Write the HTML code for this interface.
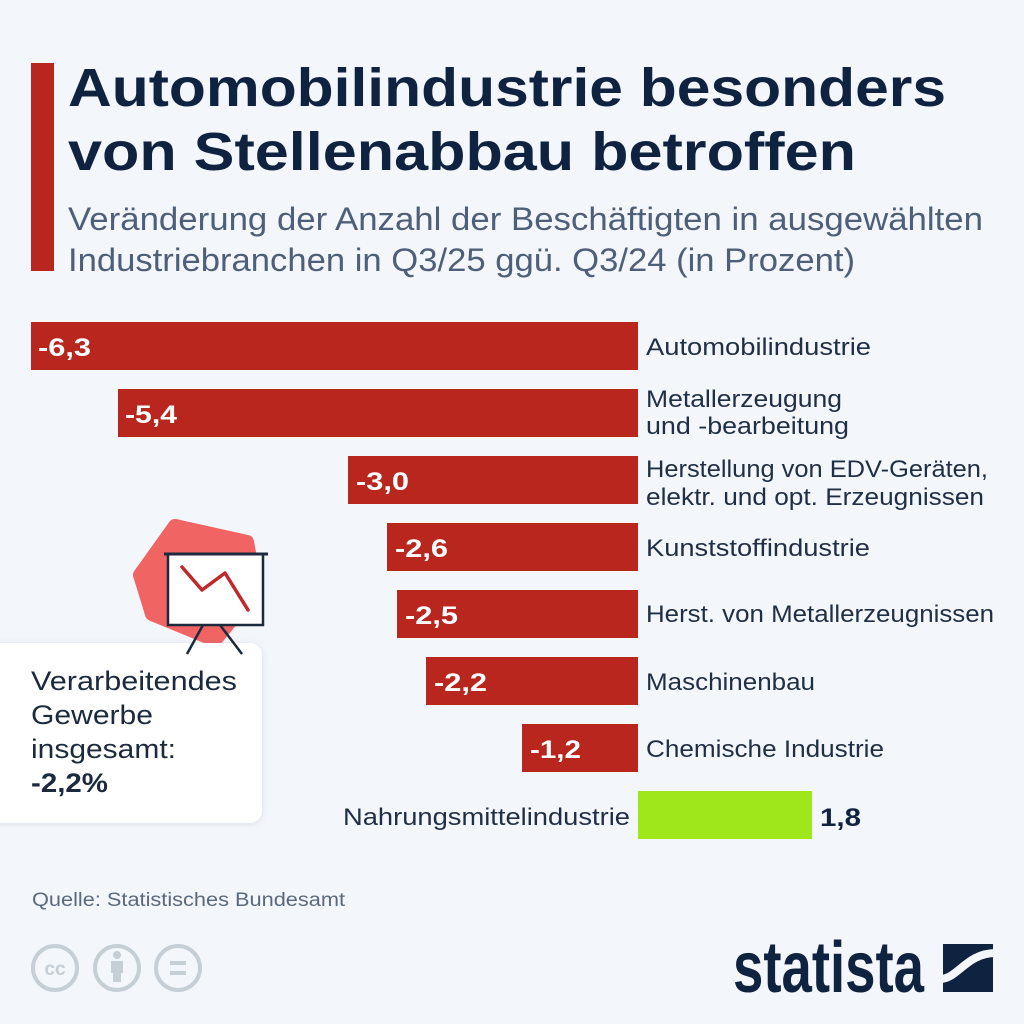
<!DOCTYPE html>
<html>
<head>
<meta charset="utf-8">
<style>
  html, body { margin: 0; padding: 0; background: #f3f6fa; }
  svg { display: block; }
  text { font-family: "Liberation Sans", "DejaVu Sans", sans-serif; }
</style>
</head>
<body>
<svg width="1024" height="1024" viewBox="0 0 1024 1024" xmlns="http://www.w3.org/2000/svg">
  <defs>
    <filter id="sh" x="-20%" y="-20%" width="140%" height="140%">
      <feDropShadow dx="0" dy="1" stdDeviation="3" flood-color="#8a98aa" flood-opacity="0.25"/>
    </filter>
  </defs>
  <rect x="0" y="0" width="1024" height="1024" fill="#f3f6fa"/>

  <!-- Header -->
  <rect x="31" y="63" width="23" height="208" fill="#b8261d"/>
  <text x="68" y="106" font-size="54" font-weight="700" fill="#0f2340" textLength="878" lengthAdjust="spacingAndGlyphs">Automobilindustrie besonders</text>
  <text x="68" y="170" font-size="54" font-weight="700" fill="#0f2340" textLength="788" lengthAdjust="spacingAndGlyphs">von Stellenabbau betroffen</text>
  <text x="68" y="230" font-size="32" fill="#4e6079" textLength="915" lengthAdjust="spacingAndGlyphs">Veränderung der Anzahl der Beschäftigten in ausgewählten</text>
  <text x="68" y="271" font-size="32" fill="#4e6079" textLength="787" lengthAdjust="spacingAndGlyphs">Industriebranchen in Q3/25 ggü. Q3/24 (in Prozent)</text>

  <!-- Bars -->
  <g fill="#b8261d">
    <rect x="31" y="322" width="607" height="48"/>
    <rect x="118" y="389" width="520" height="48"/>
    <rect x="348" y="456" width="290" height="48"/>
    <rect x="387" y="523" width="251" height="48"/>
    <rect x="397" y="590" width="241" height="48"/>
    <rect x="426" y="657" width="212" height="48"/>
    <rect x="522" y="724" width="116" height="48"/>
  </g>
  <rect x="638" y="791" width="174" height="48" fill="#9fe61b"/>

  <!-- Value labels -->
  <g fill="#ffffff" font-size="25" font-weight="700">
    <text x="38" y="356" textLength="53" lengthAdjust="spacingAndGlyphs">-6,3</text>
    <text x="125" y="423" textLength="52" lengthAdjust="spacingAndGlyphs">-5,4</text>
    <text x="356" y="490" textLength="53" lengthAdjust="spacingAndGlyphs">-3,0</text>
    <text x="395" y="557" textLength="53" lengthAdjust="spacingAndGlyphs">-2,6</text>
    <text x="405" y="624" textLength="53" lengthAdjust="spacingAndGlyphs">-2,5</text>
    <text x="434" y="691" textLength="53" lengthAdjust="spacingAndGlyphs">-2,2</text>
    <text x="530" y="758" textLength="51" lengthAdjust="spacingAndGlyphs">-1,2</text>
  </g>
  <text x="820" y="826" font-size="25" font-weight="700" fill="#0f2340" textLength="41" lengthAdjust="spacingAndGlyphs">1,8</text>

  <!-- Category labels -->
  <g fill="#1f2f45" font-size="24">
    <text x="646" y="355" textLength="225" lengthAdjust="spacingAndGlyphs">Automobilindustrie</text>
    <text x="646" y="407" textLength="196" lengthAdjust="spacingAndGlyphs">Metallerzeugung</text>
    <text x="646" y="434" textLength="203" lengthAdjust="spacingAndGlyphs">und -bearbeitung</text>
    <text x="646" y="477" textLength="342" lengthAdjust="spacingAndGlyphs">Herstellung von EDV-Geräten,</text>
    <text x="646" y="505" textLength="338" lengthAdjust="spacingAndGlyphs">elektr. und opt. Erzeugnissen</text>
    <text x="646" y="556" textLength="224" lengthAdjust="spacingAndGlyphs">Kunststoffindustrie</text>
    <text x="646" y="622" textLength="348" lengthAdjust="spacingAndGlyphs">Herst. von Metallerzeugnissen</text>
    <text x="646" y="690" textLength="169" lengthAdjust="spacingAndGlyphs">Maschinenbau</text>
    <text x="646" y="757" textLength="238" lengthAdjust="spacingAndGlyphs">Chemische Industrie</text>
    <text x="343" y="825" textLength="287" lengthAdjust="spacingAndGlyphs">Nahrungsmittelindustrie</text>
  </g>

  <!-- Icon blob -->
  <path d="M140,575 L175,526 L247,542 L256,590 L215,640 L152,614 Z" fill="#f06464" stroke="#f06464" stroke-width="14" stroke-linejoin="round"/>

  <!-- Summary box -->
  <rect x="-20" y="643" width="282" height="180" rx="12" ry="12" fill="#ffffff" filter="url(#sh)"/>
  <g fill="#1b2a3d" font-size="27">
    <text x="31" y="690" textLength="206" lengthAdjust="spacingAndGlyphs">Verarbeitendes</text>
    <text x="31" y="724" textLength="122" lengthAdjust="spacingAndGlyphs">Gewerbe</text>
    <text x="31" y="758" textLength="145" lengthAdjust="spacingAndGlyphs">insgesamt:</text>
    <text x="31" y="792" font-weight="700" textLength="77" lengthAdjust="spacingAndGlyphs">-2,2%</text>
  </g>

  <!-- Easel -->
  <rect x="168" y="554" width="95" height="71" fill="#ffffff" stroke="#1b2a3d" stroke-width="2.5"/>
  <line x1="164" y1="554" x2="268" y2="554" stroke="#1b2a3d" stroke-width="3"/>
  <line x1="203" y1="625" x2="187" y2="654" stroke="#1b2a3d" stroke-width="2.5"/>
  <line x1="220" y1="625" x2="242" y2="654" stroke="#1b2a3d" stroke-width="2.5"/>
  <polyline points="182,567 202,590 225,573 248,610" fill="none" stroke="#c0282b" stroke-width="3.5" stroke-linejoin="round" stroke-linecap="round"/>

  <!-- Source -->
  <text x="32" y="906" font-size="19" fill="#5a6a7e" textLength="313" lengthAdjust="spacingAndGlyphs">Quelle: Statistisches Bundesamt</text>

  <!-- CC icons -->
  <g fill="none" stroke="#c6ced6" stroke-width="4">
    <circle cx="55" cy="968" r="22"/>
    <circle cx="117" cy="968" r="22"/>
    <circle cx="178" cy="968" r="22"/>
    <line x1="170" y1="963" x2="186" y2="963"/>
    <line x1="170" y1="973" x2="186" y2="973"/>
  </g>
  <text x="55" y="975" font-size="19" font-weight="700" fill="#c6ced6" text-anchor="middle">cc</text>
  <circle cx="117" cy="955" r="4" fill="#c6ced6"/>
  <rect x="111" y="961" width="12" height="12" fill="#c6ced6"/>
  <rect x="113" y="972" width="8" height="10" fill="#c6ced6"/>

  <!-- statista logo -->
  <text x="733" y="992" font-size="72" font-weight="700" fill="#0f2340" textLength="191" lengthAdjust="spacingAndGlyphs">statista</text>
  <rect x="943" y="944" width="50" height="48" fill="#0f2340"/>
  <path d="M940,979 C958,979 966,953 996,953" fill="none" stroke="#f3f6fa" stroke-width="8"/>
</svg>
</body>
</html>
